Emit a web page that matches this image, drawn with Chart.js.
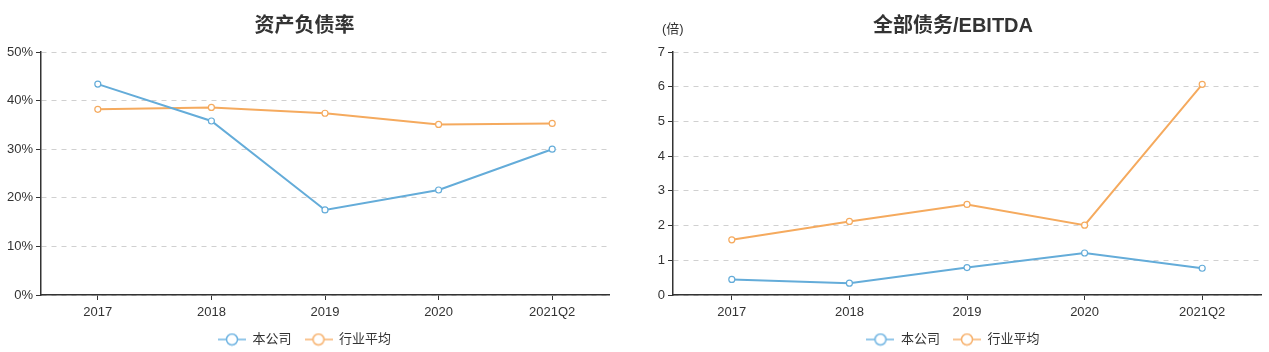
<!DOCTYPE html>
<html>
<head>
<meta charset="utf-8">
<script src="https://cdn.jsdelivr.net/npm/chart.js@4"></script>
<style>
  body { margin:0; background:#fff; width:1269px; height:352px; position:relative; overflow:hidden;
         font-family:"Liberation Sans","Noto Sans CJK SC",sans-serif; }
  .box { position:absolute; top:0; height:356px; }
  #unit { position:absolute; left:662px; top:18px; font-size:13px; color:#333; }
</style>
</head>
<body>
<div class="box" style="left:0;width:634px"><canvas id="c1"></canvas></div>
<div class="box" style="left:634px;width:635px"><canvas id="c2"></canvas></div>
<div id="unit">(倍)</div>
<script>
var years = ['2017', '2018', '2019', '2020', '2021Q2'];
var seriesNames = ['本公司', '行业平均'];

// 资产负债率 (%)
var debtRatioCompany = [43.4, 35.8, 17.5, 21.6, 30.0];
var debtRatioIndustry = [38.2, 38.6, 37.4, 35.1, 35.3];

// 全部债务/EBITDA (倍)
var debtEbitdaCompany = [0.45, 0.34, 0.79, 1.21, 0.77];
var debtEbitdaIndustry = [1.59, 2.12, 2.61, 2.01, 6.07];

var blue = '#64acd9', orange = '#f5aa5e';
var blueLight = '#6fb4e2', orangeLight = '#f7b26e';
var fontFam = '"Liberation Sans","Noto Sans CJK SC",sans-serif';

function legendIcon(color) {
  var c = document.createElement('canvas');
  c.width = 28; c.height = 14;
  var g = c.getContext('2d');
  g.strokeStyle = color; g.lineWidth = 1.5;
  g.beginPath(); g.moveTo(0, 7); g.lineTo(28, 7); g.stroke();
  g.beginPath(); g.arc(14, 7, 5.5, 0, Math.PI * 2);
  g.fillStyle = '#fff'; g.fill(); g.stroke();
  return c;
}
var iconBlue = legendIcon(blueLight), iconOrange = legendIcon(orangeLight);

function ds(label, data, color, icon) {
  return {
    label: label, data: data,
    borderColor: color, backgroundColor: '#fff',
    borderWidth: 2, tension: 0,
    pointRadius: 3, pointBorderWidth: 1.2,
    pointBackgroundColor: '#fff', pointBorderColor: color,
    pointStyle: 'circle', legendIcon: icon
  };
}

function makeChart(id, title, a, b, yMax, pct, pad, yWidth) {
  new Chart(document.getElementById(id), {
    type: 'line',
    data: {
      labels: years,
      datasets: [ds(seriesNames[0], a, blue, iconBlue), ds(seriesNames[1], b, orange, iconOrange)]
    },
    options: {
      responsive: true,
      maintainAspectRatio: false,
      animation: false,
      layout: { padding: pad },
      plugins: {
        title: {
          display: true, text: title, color: '#333',
          font: { size: 20, weight: 'bold', family: fontFam },
          padding: { top: 14, bottom: 14 }
        },
        legend: {
          position: 'bottom',
          labels: {
            usePointStyle: true, pointStyleWidth: 28,
            color: '#333', font: { size: 13, family: fontFam }, padding: 13,
            generateLabels: function (chart) {
              return chart.data.datasets.map(function (d, i) {
                return { text: d.label, pointStyle: d.legendIcon, datasetIndex: i,
                         fontColor: '#333', lineWidth: 0, strokeStyle: 'transparent', fillStyle: 'transparent' };
              });
            }
          }
        },
        tooltip: { enabled: false }
      },
      scales: {
        x: {
          offset: true,
          grid: { drawOnChartArea: false, drawTicks: true, tickLength: 5, tickColor: '#333', offset: false },
          border: { color: '#333', width: 1.5 },
          ticks: { color: '#333', font: { size: 13, family: fontFam }, padding: 5, maxRotation: 0 },
          afterFit: function (s) { s.height = 25; }
        },
        y: {
          min: 0, max: yMax,
          grid: { color: '#d0d0d0', lineWidth: 1, drawTicks: true, tickLength: 5, tickColor: '#333' },
          border: { color: '#333', width: 1.5, dash: [5, 5] },
          ticks: {
            stepSize: pct ? 10 : 1, color: '#333', padding: 3,
            font: { size: 13, family: fontFam },
            callback: function (v) { return pct ? v + '%' : v; }
          },
          afterFit: function (s) { s.width = yWidth; }
        }
      }
    }
  });
}

makeChart('c1', '资产负债率', debtRatioCompany, debtRatioIndustry, 50, true,
  { left: 0, right: 25, top: 0, bottom: 0 }, 41);
makeChart('c2', '全部债务/EBITDA', debtEbitdaCompany, debtEbitdaIndustry, 7, false,
  { left: 11, right: 8, top: 0, bottom: 0 }, 28);
</script>
</body>
</html>
